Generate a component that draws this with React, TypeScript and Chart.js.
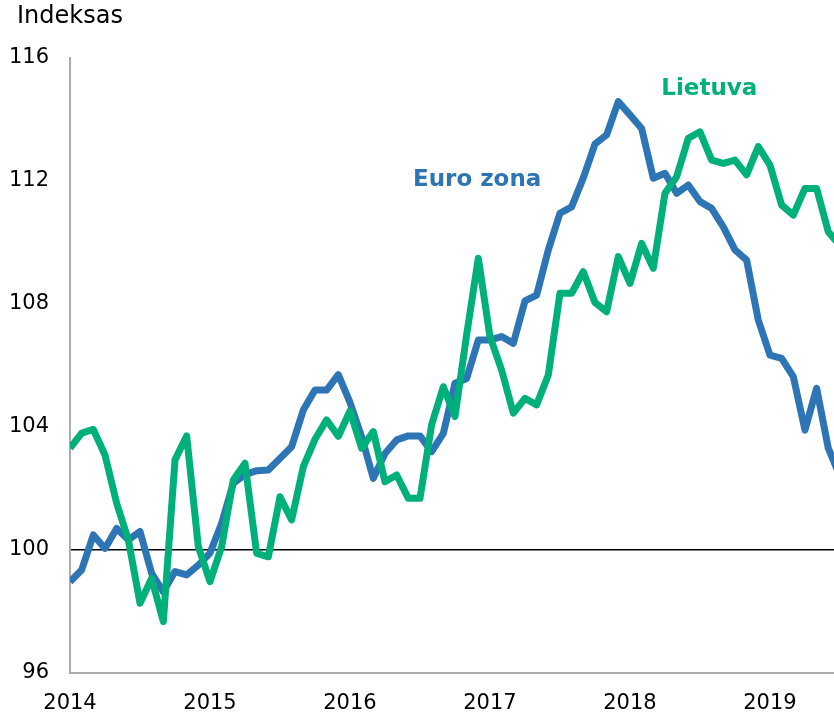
import React, { useEffect, useRef } from "react";
import { Chart, registerables } from "chart.js";

Chart.register(...registerables);

// Monthly index values, January 2014 onward
const euroZone = [
  98.97, 99.35, 100.49, 100.05, 100.7, 100.33, 100.6, 99.24, 98.64, 99.3, 99.19, 99.51,
  99.9, 100.87, 102.17, 102.45, 102.58, 102.6, 102.98, 103.36, 104.55, 105.2, 105.2, 105.7,
  104.8, 103.68, 102.33, 103.14, 103.58, 103.71, 103.71, 103.2, 103.79, 105.42, 105.58, 106.83,
  106.83, 106.94, 106.72, 108.1, 108.29, 109.76, 110.95, 111.16, 112.1, 113.2, 113.5, 114.58,
  114.15, 113.71, 112.09, 112.25, 111.6, 111.87, 111.33, 111.11, 110.51, 109.76, 109.43, 107.48,
  106.34, 106.23, 105.64, 103.9, 105.26, 103.31, 102.4,
];

const lithuania = [
  103.31, 103.8, 103.92, 103.09, 101.52, 100.33, 98.27, 99.08, 97.67, 102.93, 103.71, 100.11,
  98.97, 100.11, 102.28, 102.82, 99.89, 99.78, 101.73, 100.98, 102.71, 103.6, 104.23, 103.7,
  104.52, 103.31, 103.85, 102.22, 102.44, 101.68, 101.68, 104.07, 105.31, 104.34, 107.0, 109.49,
  106.94, 105.85, 104.45, 104.93, 104.72, 105.69, 108.35, 108.35, 109.05, 108.05, 107.75, 109.54,
  108.67, 109.97, 109.16, 111.6, 112.14, 113.39, 113.6, 112.68, 112.57, 112.68, 112.2, 113.12,
  112.52, 111.22, 110.89, 111.76, 111.76, 110.35, 109.9,
];

const startYear = 2014;
const yearTicks = [0, 12, 24, 36, 48, 60]; // month offsets of each January
const yTicks = [96, 100, 104, 108, 112, 116];
const xMaxMonth = 65.49;

const seriesNames = ["Euro zona", "Lietuva"];
const yTitle = "Indeksas";

const BLUE = "#2E75B6";
const GREEN = "#00B07A";

export default function App() {
  const canvasRef = useRef<HTMLCanvasElement | null>(null);

  useEffect(() => {
    const canvas = canvasRef.current;
    if (!canvas) return;

    const toPoints = (arr: number[]) => arr.map((v, i) => ({ x: i, y: v }));

    const annotPlugin = {
      id: "annotations",
      afterDatasetsDraw(chart: any) {
        const { ctx, scales } = chart;
        const x = scales.x;
        const y = scales.y;
        ctx.save();
        ctx.fillStyle = "#000";
        ctx.font = '24px "DejaVu Sans"';
        ctx.textAlign = "left";
        ctx.textBaseline = "middle";
        ctx.fillText(yTitle, 17, 17);

        ctx.font = 'bold 23px "DejaVu Sans"';
        ctx.textAlign = "center";
        ctx.fillStyle = BLUE;
        ctx.fillText(seriesNames[0], x.getPixelForValue(34.9), y.getPixelForValue(112.03));
        ctx.fillStyle = GREEN;
        ctx.fillText(seriesNames[1], x.getPixelForValue(54.8), y.getPixelForValue(114.99));
        ctx.restore();
      },
    };

    const chart = new Chart(canvas, {
      type: "line",
      data: {
        datasets: [
          {
            label: seriesNames[1],
            data: toPoints(lithuania),
            borderColor: GREEN,
            backgroundColor: GREEN,
            borderWidth: 7,
            pointRadius: 0,
            tension: 0,
            borderJoinStyle: "round",
            fill: false,
          },
          {
            label: seriesNames[0],
            data: toPoints(euroZone),
            borderColor: BLUE,
            backgroundColor: BLUE,
            borderWidth: 7,
            pointRadius: 0,
            tension: 0,
            borderJoinStyle: "round",
            fill: false,
          },
        ],
      },
      options: {
        responsive: false,
        animation: false,
        devicePixelRatio: 1,
        layout: { padding: { top: 58, right: 0, left: 0, bottom: 0 } },
        plugins: {
          legend: { display: false },
          tooltip: { enabled: false },
          title: { display: false },
        },
        scales: {
          x: {
            type: "linear",
            min: 0,
            max: xMaxMonth,
            afterBuildTicks: (scale: any) => {
              scale.ticks = yearTicks.map((v) => ({ value: v }));
            },
            afterFit: (scale: any) => {
              scale.height = 42;
            },
            ticks: {
              autoSkip: false,
              maxRotation: 0,
              minRotation: 0,
              padding: 18,
              color: "#000",
              font: { family: '"DejaVu Sans"', size: 21 },
              callback: (v: any) => String(startYear + Number(v) / 12),
            },
            grid: { display: false, drawTicks: false },
            border: { display: true, color: "#ADADAD", width: 2 },
          },
          y: {
            type: "linear",
            min: 96,
            max: 116,
            afterBuildTicks: (scale: any) => {
              scale.ticks = yTicks.map((v) => ({ value: v }));
            },
            afterFit: (scale: any) => {
              scale.width = 70;
            },
            ticks: {
              padding: 21,
              color: "#000",
              font: { family: '"DejaVu Sans"', size: 21 },
              callback: (v: any) => String(v),
            },
            grid: {
              display: true,
              drawTicks: false,
              color: (c: any) => (c.tick && c.tick.value === 100 ? "#000" : "rgba(0,0,0,0)"),
              lineWidth: 1.5,
            },
            border: { display: true, color: "#ADADAD", width: 2 },
          },
        },
      },
      plugins: [annotPlugin],
    });

    return () => chart.destroy();
  }, []);

  return (
    <div style={{ position: "absolute", left: 0, top: 0, width: 834, height: 715, background: "#fff" }}>
      <canvas ref={canvasRef} width={834} height={715} style={{ display: "block" }} />
    </div>
  );
}
